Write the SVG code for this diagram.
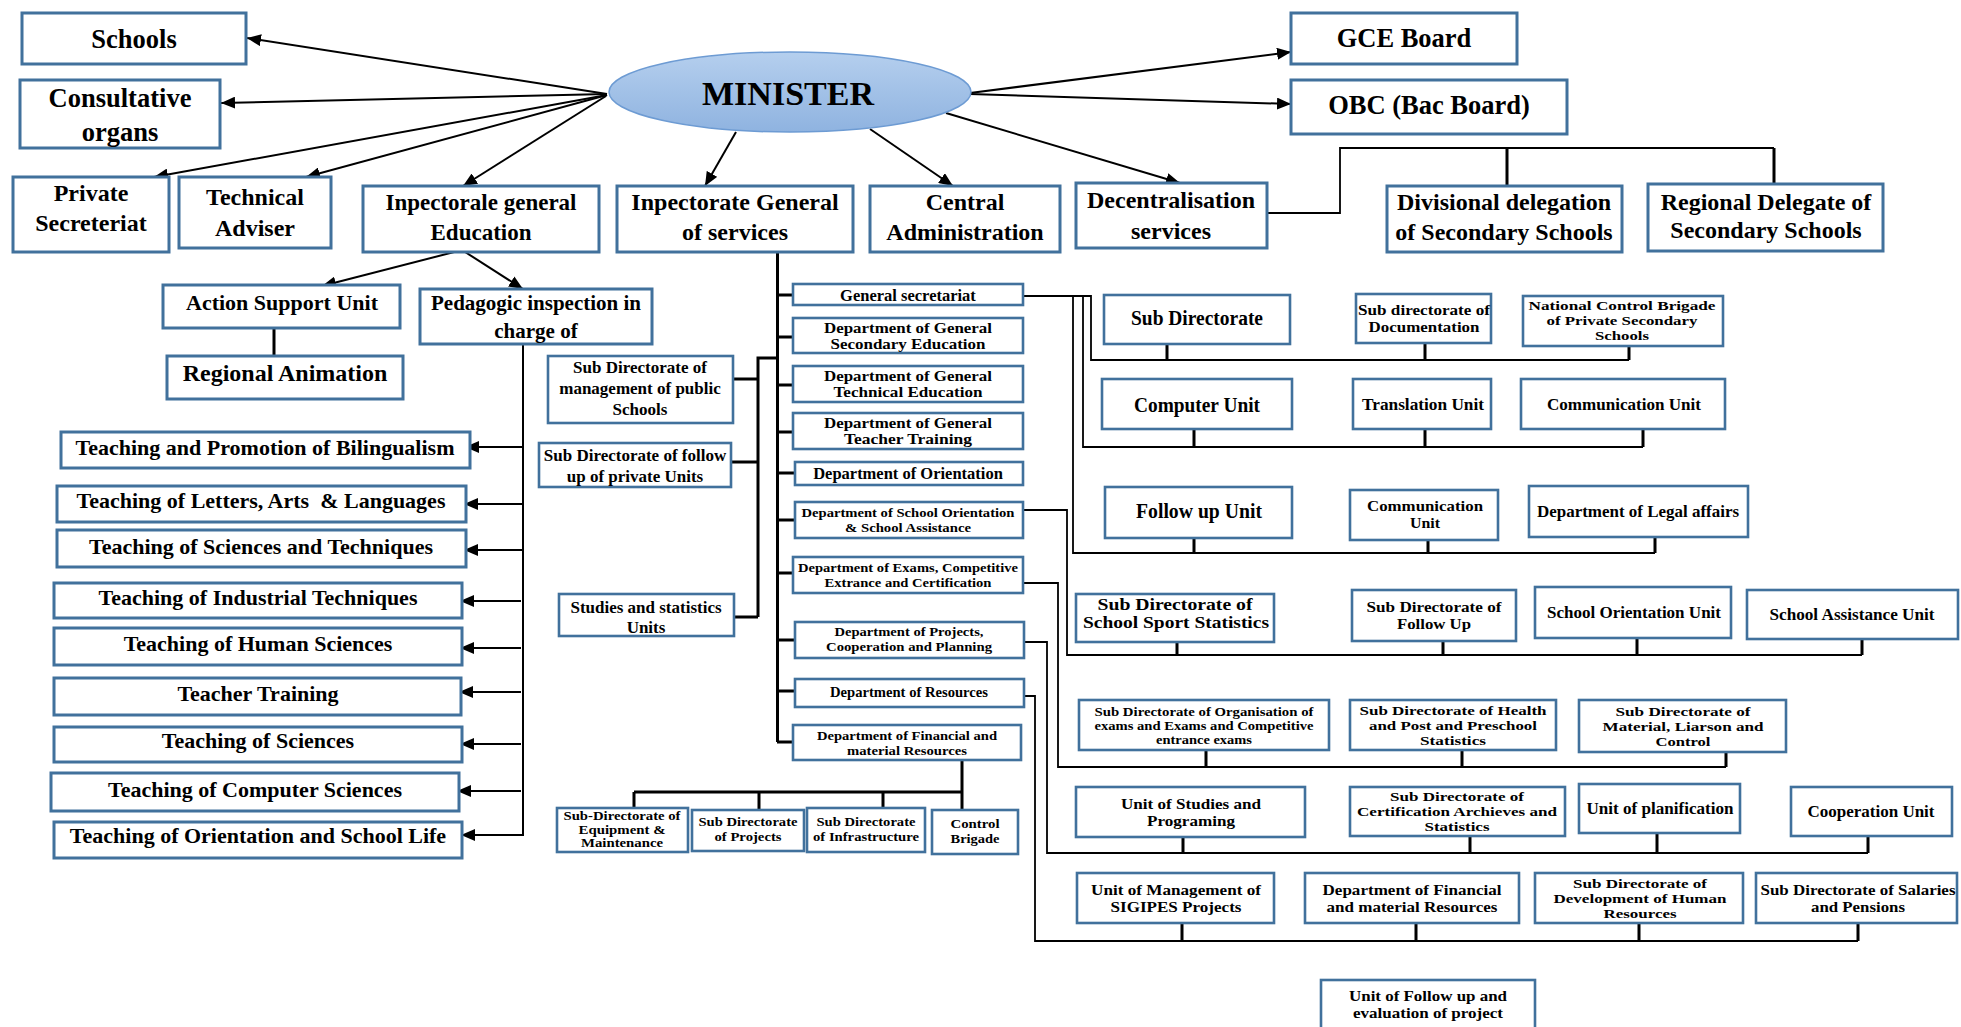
<svg xmlns="http://www.w3.org/2000/svg" width="1961" height="1027" viewBox="0 0 1961 1027">
<style>
  .b{fill:#fff;stroke:#41719c;stroke-width:3}
  .s{fill:#fff;stroke:#41719c;stroke-width:2.6}
  text{font-family:"Liberation Serif","Times New Roman",serif;font-weight:bold;text-anchor:middle;fill:#000}
  .l{stroke:#000;stroke-width:1.8;fill:none}
  .k{stroke:#000;stroke-width:3;fill:none}
  .a{stroke:#000;stroke-width:2;fill:none;marker-end:url(#ah)}
  .f26{font-size:26.5px}.f24{font-size:24px}.f23{font-size:23px}.f22{font-size:22px}.f21{font-size:21px}
  .f17{font-size:17px}.f165{font-size:16.5px}.f144{font-size:14.4px}.f135{font-size:13.5px}.f12{font-size:12px}
  .r20{font-size:20px}.r17{font-size:17px}.r16{font-size:16px}.r15{font-size:15px}.r135{font-size:13.5px}.r125{font-size:12.5px}
</style>
<defs>
  <marker id="ah" viewBox="0 0 14 12" refX="14" refY="6" markerWidth="14" markerHeight="12" markerUnits="userSpaceOnUse" orient="auto">
    <path d="M0,0 L14,6 L0,12 z" fill="#000"/>
  </marker>
  <linearGradient id="minfill" x1="0" y1="0" x2="0" y2="1">
    <stop offset="0" stop-color="#b5cfee"/>
    <stop offset="1" stop-color="#8fb3e0"/>
  </linearGradient>
</defs>

<!-- connectors -->
<g id="connectors">
  <!-- from the minister -->
  <line class="a" x1="607" y1="94" x2="247" y2="38"/>
  <line class="a" x1="607" y1="94" x2="221" y2="103"/>
  <line class="a" x1="607" y1="95" x2="154" y2="177"/>
  <line class="a" x1="607" y1="95" x2="306" y2="177"/>
  <line class="a" x1="606" y1="96" x2="463" y2="186"/>
  <line class="a" x1="736" y1="132" x2="705" y2="186"/>
  <line class="a" x1="870" y1="129" x2="953" y2="186"/>
  <line class="a" x1="946" y1="113" x2="1180" y2="183"/>
  <line class="a" x1="970" y1="93" x2="1291" y2="52"/>
  <line class="a" x1="970" y1="94" x2="1291" y2="104"/>
  <!-- general education inspectorate -->
  <line class="a" x1="462" y1="250" x2="322" y2="286"/>
  <line class="a" x1="462" y1="250" x2="523" y2="289"/>
  <path class="k" d="M274,328 V356"/>
  <!-- pedagogic inspection -->
  <path class="a" d="M523,344 V835 H461"/>
  <line class="a" x1="523" y1="447" x2="465" y2="447"/>
  <line class="a" x1="523" y1="504" x2="464" y2="504"/>
  <line class="a" x1="523" y1="550" x2="464" y2="550"/>
  <line class="a" x1="521" y1="601" x2="460" y2="601"/>
  <line class="a" x1="521" y1="648" x2="460" y2="648"/>
  <line class="a" x1="521" y1="692" x2="459" y2="692"/>
  <line class="a" x1="521" y1="744" x2="460" y2="744"/>
  <line class="a" x1="521" y1="791" x2="457" y2="791"/>
  <!-- inspectorate general of services trunk -->
  <path class="k" d="M777.5,252 V742"/>
  <path class="k" d="M777,295 H793 M777,337 H793 M777,385 H793 M777,432 H793 M777,473 H795 M777,520 H795 M777,573 H793 M777,640 H795 M777,691 H795 M777,742 H793"/>
  <path class="k" d="M777,358 H758 V617 M733,379 H758 M731,462 H758 M734,617 H758"/>
  <!-- financial and material resources -->
  <path class="k" d="M962,760 V810 M634,792 H962 M634,792 V808 M759,792 V810 M883,792 V808"/>
  <!-- decentralisation -->
  <path class="l" d="M1267,213 H1340 V148 H1774"/>
  <path class="k" d="M1507,148 V186 M1774,148 V184"/>
  <!-- general secretariat -->
  <path class="l" d="M1023,296 H1091 V360 H1629 M1083,296 V447 H1643 M1073,296 V553 H1655"/>
  <path class="k" d="M1167,344 V360 M1425,343 V360 M1629,346 V360"/>
  <path class="k" d="M1194,429 V447 M1425,429 V447 M1643,429 V447"/>
  <path class="k" d="M1194,538 V553 M1428,540 V553 M1655,537 V553"/>
  <!-- school orientation & assistance -->
  <path class="l" d="M1023,510 H1067 V655 H1862"/>
  <path class="k" d="M1177,642 V655 M1443,641 V655 M1637,638 V655 M1862,639 V655"/>
  <!-- exams -->
  <path class="l" d="M1023,583 H1058 V767 H1726"/>
  <path class="k" d="M1206,750 V767 M1462,750 V767 M1726,752 V767"/>
  <!-- projects -->
  <path class="l" d="M1025,642 H1047 V853 H1868"/>
  <path class="k" d="M1183,837 V853 M1470,836 V853 M1657,833 V853 M1868,836 V853"/>
  <!-- resources -->
  <path class="l" d="M1025,696 H1035 V941 H1858"/>
  <path class="k" d="M1182,923 V941 M1416,923 V941 M1639,923 V941 M1858,923 V941"/>
</g>

<!-- top level -->
<g id="minister">
  <ellipse cx="790" cy="92" rx="181" ry="40" fill="url(#minfill)" stroke="#6d9bd3" stroke-width="1.5"/>
  <text x="788" y="105" style="font-size:34px">MINISTER</text>
</g>
<g id="schools"><rect class="b" x="22" y="13" width="224" height="51"/><text class="f26" x="134" y="48">Schools</text></g>
<g id="consultative"><rect class="b" x="20" y="80" width="200" height="68"/><text class="f26" x="120" y="107">Consultative</text><text class="f26" x="120" y="141">organs</text></g>
<g id="private-secretariat"><rect class="b" x="13" y="177" width="156" height="75"/><text class="f24" x="91" y="201">Private</text><text class="f24" x="91" y="231">Secreteriat</text></g>
<g id="technical-adviser"><rect class="b" x="179" y="177" width="152" height="71"/><text class="f24" x="255" y="205">Technical</text><text class="f24" x="255" y="236">Adviser</text></g>
<g id="ig-education"><rect class="b" x="363" y="186" width="236" height="66"/><text class="f23" x="481" y="210">Inpectorale general</text><text class="f23" x="481" y="240">Education</text></g>
<g id="ig-services"><rect class="b" x="617" y="186" width="236" height="66"/><text class="f24" x="735" y="210">Inpectorate General</text><text class="f24" x="735" y="240">of services</text></g>
<g id="central-admin"><rect class="b" x="870" y="186" width="190" height="66"/><text class="f24" x="965" y="210">Central</text><text class="f24" x="965" y="240">Administration</text></g>
<g id="decentralisation"><rect class="b" x="1076" y="183" width="191" height="65"/><text class="f24" x="1171" y="208">Decentralisation</text><text class="f24" x="1171" y="239">services</text></g>
<g id="gce-board"><rect class="b" x="1291" y="13" width="226" height="51"/><text class="f26" x="1404" y="47">GCE Board</text></g>
<g id="obc"><rect class="b" x="1291" y="80" width="276" height="54"/><text class="f26" x="1429" y="114">OBC (Bac Board)</text></g>
<g id="divisional"><rect class="b" x="1387" y="186" width="235" height="66"/><text class="f24" x="1504" y="210">Divisional delegation</text><text class="f24" x="1504" y="240">of Secondary Schools</text></g>
<g id="regional-delegate"><rect class="b" x="1648" y="184" width="235" height="67"/><text class="f24" x="1766" y="210">Regional Delegate of</text><text class="f24" x="1766" y="238">Secondary Schools</text></g>

<!-- general education branch -->
<g id="action-support"><rect class="b" x="163" y="285" width="237" height="43"/><text class="f22" x="282" y="310">Action Support Unit</text></g>
<g id="regional-animation"><rect class="b" x="167" y="356" width="236" height="43"/><text class="f24" x="285" y="381">Regional Animation</text></g>
<g id="pedagogic"><rect class="b" x="420" y="289" width="232" height="55"/><text class="f21" x="536" y="310">Pedagogic inspection in</text><text class="f21" x="536" y="338">charge of</text></g>
<g id="t-bilingualism"><rect class="b" x="61" y="432" width="409" height="36"/><text class="f22" x="265" y="455">Teaching and Promotion of Bilingualism</text></g>
<g id="t-letters"><rect class="b" x="57" y="486" width="409" height="36"/><text class="f22" x="261" y="508" xml:space="preserve">Teaching of Letters, Arts  &amp; Languages</text></g>
<g id="t-sciences-tech"><rect class="b" x="57" y="530" width="409" height="37"/><text class="f22" x="261" y="554">Teaching of Sciences and Techniques</text></g>
<g id="t-industrial"><rect class="b" x="54" y="583" width="408" height="35"/><text class="f22" x="258" y="605">Teaching of Industrial Techniques</text></g>
<g id="t-human"><rect class="b" x="54" y="628" width="408" height="37"/><text class="f22" x="258" y="651">Teaching of Human Sciences</text></g>
<g id="t-teacher"><rect class="b" x="54" y="678" width="407" height="37"/><text class="f22" x="258" y="701">Teacher Training</text></g>
<g id="t-sciences"><rect class="b" x="54" y="727" width="408" height="35"/><text class="f22" x="258" y="748">Teaching of Sciences</text></g>
<g id="t-computer"><rect class="b" x="51" y="773" width="408" height="38"/><text class="f22" x="255" y="797">Teaching of Computer Sciences</text></g>
<g id="t-orientation"><rect class="b" x="54" y="822" width="408" height="36"/><text class="f22" x="258" y="843">Teaching of Orientation and School Life</text></g>

<!-- services branch -->
<g id="gen-secretariat"><rect class="s" x="793" y="284" width="230" height="21"/><text class="f165" x="908" y="301">General secretariat</text></g>
<g id="dep-secondary"><rect class="s" x="793" y="318" width="230" height="35"/><text class="f144" x="908" y="333" textLength="168" lengthAdjust="spacingAndGlyphs">Department of General</text><text class="f144" x="908" y="349" textLength="155" lengthAdjust="spacingAndGlyphs">Secondary Education</text></g>
<g id="dep-technical"><rect class="s" x="793" y="366" width="230" height="36"/><text class="f144" x="908" y="381" textLength="168" lengthAdjust="spacingAndGlyphs">Department of General</text><text class="f144" x="908" y="397" textLength="149" lengthAdjust="spacingAndGlyphs">Technical Education</text></g>
<g id="dep-teacher"><rect class="s" x="793" y="413" width="230" height="36"/><text class="f144" x="908" y="428" textLength="168" lengthAdjust="spacingAndGlyphs">Department of General</text><text class="f144" x="908" y="444" textLength="128" lengthAdjust="spacingAndGlyphs">Teacher Training</text></g>
<g id="dep-orientation"><rect class="s" x="795" y="462" width="228" height="23"/><text class="f165" x="908" y="479">Department of Orientation</text></g>
<g id="dep-school-orientation"><rect class="s" x="795" y="502" width="228" height="36"/><text class="f135" x="908" y="517" textLength="213" lengthAdjust="spacingAndGlyphs">Department of School Orientation</text><text class="f135" x="908" y="532" textLength="126" lengthAdjust="spacingAndGlyphs">&amp; School Assistance</text></g>
<g id="dep-exams"><rect class="s" x="793" y="557" width="230" height="36"/><text class="f135" x="908" y="572" textLength="220" lengthAdjust="spacingAndGlyphs">Department of Exams, Competitive</text><text class="f135" x="908" y="587" textLength="167" lengthAdjust="spacingAndGlyphs">Extrance and Certification</text></g>
<g id="dep-projects"><rect class="s" x="795" y="622" width="229" height="36"/><text class="f135" x="909" y="636" textLength="149" lengthAdjust="spacingAndGlyphs">Department of Projects,</text><text class="f135" x="909" y="651" textLength="166" lengthAdjust="spacingAndGlyphs">Cooperation and Planning</text></g>
<g id="dep-resources"><rect class="s" x="795" y="679" width="229" height="28"/><text class="f144" x="909" y="697" textLength="158" lengthAdjust="spacingAndGlyphs">Department of Resources</text></g>
<g id="dep-financial"><rect class="s" x="793" y="725" width="228" height="35"/><text class="f135" x="907" y="740" textLength="180" lengthAdjust="spacingAndGlyphs">Department of Financial and</text><text class="f135" x="907" y="755" textLength="120" lengthAdjust="spacingAndGlyphs">material Resources</text></g>

<g id="sd-public"><rect class="s" x="548" y="356" width="185" height="67"/><text class="f17" x="640" y="373">Sub Directorate of</text><text class="f17" x="640" y="394">management of public</text><text class="f17" x="640" y="415">Schools</text></g>
<g id="sd-private"><rect class="s" x="539" y="443" width="192" height="44"/><text class="f17" x="635" y="461">Sub Directorate of follow</text><text class="f17" x="635" y="482">up of private Units</text></g>
<g id="studies-units"><rect class="s" x="559" y="594" width="175" height="42"/><text class="f17" x="646" y="613">Studies and statistics</text><text class="f17" x="646" y="633">Units</text></g>

<g id="sd-equipment"><rect class="s" x="557" y="808" width="131" height="44"/><text class="f12" x="622" y="820" textLength="117" lengthAdjust="spacingAndGlyphs">Sub-Directorate of</text><text class="f12" x="622" y="833.5" textLength="87" lengthAdjust="spacingAndGlyphs">Equipment &amp;</text><text class="f12" x="622" y="847" textLength="82" lengthAdjust="spacingAndGlyphs">Maintenance</text></g>
<g id="sd-projects"><rect class="s" x="692" y="810" width="112" height="41"/><text class="f135" x="748" y="826" textLength="99" lengthAdjust="spacingAndGlyphs">Sub Directorate</text><text class="f135" x="748" y="841" textLength="67" lengthAdjust="spacingAndGlyphs">of Projects</text></g>
<g id="sd-infrastructure"><rect class="s" x="807" y="808" width="118" height="44"/><text class="f135" x="866" y="826" textLength="99" lengthAdjust="spacingAndGlyphs">Sub Directorate</text><text class="f135" x="866" y="841" textLength="106" lengthAdjust="spacingAndGlyphs">of Infrastructure</text></g>
<g id="control-brigade"><rect class="s" x="932" y="810" width="86" height="44"/><text class="f135" x="975" y="828" textLength="49" lengthAdjust="spacingAndGlyphs">Control</text><text class="f135" x="975" y="843" textLength="49" lengthAdjust="spacingAndGlyphs">Brigade</text></g>

<!-- units under the departments -->
<g id="r1-subdir"><rect class="s" x="1104" y="295" width="186" height="49"/><text class="r20" x="1197" y="325" textLength="132" lengthAdjust="spacingAndGlyphs">Sub Directorate</text></g>
<g id="r1-documentation"><rect class="s" x="1356" y="294" width="135" height="49"/><text class="r15" x="1424" y="315" textLength="132" lengthAdjust="spacingAndGlyphs">Sub directorate of</text><text class="r15" x="1424" y="332" textLength="111" lengthAdjust="spacingAndGlyphs">Documentation</text></g>
<g id="r1-brigade"><rect class="s" x="1523" y="296" width="200" height="50"/><text class="r135" x="1622" y="310" textLength="187" lengthAdjust="spacingAndGlyphs">National Control Brigade</text><text class="r135" x="1622" y="325" textLength="151" lengthAdjust="spacingAndGlyphs">of Private Secondary</text><text class="r135" x="1622" y="340" textLength="54" lengthAdjust="spacingAndGlyphs">Schools</text></g>

<g id="r2-computer"><rect class="s" x="1102" y="379" width="190" height="50"/><text class="r20" x="1197" y="412" textLength="126" lengthAdjust="spacingAndGlyphs">Computer Unit</text></g>
<g id="r2-translation"><rect class="s" x="1353" y="379" width="138" height="50"/><text class="r17" x="1423" y="410" textLength="122" lengthAdjust="spacingAndGlyphs">Translation Unit</text></g>
<g id="r2-communication"><rect class="s" x="1521" y="379" width="204" height="50"/><text class="r17" x="1624" y="410" textLength="154" lengthAdjust="spacingAndGlyphs">Communication Unit</text></g>

<g id="r3-follow"><rect class="s" x="1105" y="487" width="187" height="51"/><text class="r20" x="1199" y="518" textLength="126" lengthAdjust="spacingAndGlyphs">Follow up Unit</text></g>
<g id="r3-communication"><rect class="s" x="1350" y="490" width="148" height="50"/><text class="r15" x="1425" y="511" textLength="116" lengthAdjust="spacingAndGlyphs">Communication</text><text class="r15" x="1425" y="528" textLength="30" lengthAdjust="spacingAndGlyphs">Unit</text></g>
<g id="r3-legal"><rect class="s" x="1529" y="486" width="219" height="51"/><text class="r17" x="1638" y="517" textLength="202" lengthAdjust="spacingAndGlyphs">Department of Legal affairs</text></g>

<g id="r4-sport"><rect class="s" x="1076" y="594" width="198" height="48"/><text class="r16" x="1175" y="610" textLength="155" lengthAdjust="spacingAndGlyphs">Sub Directorate of</text><text class="r16" x="1176" y="628" textLength="186" lengthAdjust="spacingAndGlyphs">School Sport Statistics</text></g>
<g id="r4-followup"><rect class="s" x="1352" y="590" width="164" height="51"/><text class="r15" x="1434" y="612" textLength="135" lengthAdjust="spacingAndGlyphs">Sub Directorate of</text><text class="r15" x="1434" y="629" textLength="74" lengthAdjust="spacingAndGlyphs">Follow Up</text></g>
<g id="r4-orientation"><rect class="s" x="1535" y="587" width="196" height="51"/><text class="r17" x="1634" y="618" textLength="174" lengthAdjust="spacingAndGlyphs">School Orientation Unit</text></g>
<g id="r4-assistance"><rect class="s" x="1747" y="590" width="211" height="49"/><text class="r17" x="1852" y="620" textLength="165" lengthAdjust="spacingAndGlyphs">School Assistance Unit</text></g>

<g id="r5-organisation"><rect class="s" x="1079" y="700" width="250" height="50"/><text class="r125" x="1204" y="716" textLength="219" lengthAdjust="spacingAndGlyphs">Sub Directorate of Organisation of</text><text class="r125" x="1204" y="730" textLength="219" lengthAdjust="spacingAndGlyphs">exams and Exams and Competitive</text><text class="r125" x="1204" y="744" textLength="96" lengthAdjust="spacingAndGlyphs">entrance exams</text></g>
<g id="r5-health"><rect class="s" x="1350" y="700" width="206" height="50"/><text class="r135" x="1453" y="715" textLength="187" lengthAdjust="spacingAndGlyphs">Sub Directorate of Health</text><text class="r135" x="1453" y="730" textLength="168" lengthAdjust="spacingAndGlyphs">and Post and Preschool</text><text class="r135" x="1453" y="745" textLength="66" lengthAdjust="spacingAndGlyphs">Statistics</text></g>
<g id="r5-material"><rect class="s" x="1579" y="700" width="207" height="52"/><text class="r135" x="1683" y="716" textLength="135" lengthAdjust="spacingAndGlyphs">Sub Directorate of</text><text class="r135" x="1683" y="731" textLength="161" lengthAdjust="spacingAndGlyphs">Material, Liarson and</text><text class="r135" x="1683" y="746" textLength="55" lengthAdjust="spacingAndGlyphs">Control</text></g>

<g id="r6-studies"><rect class="s" x="1076" y="787" width="229" height="50"/><text class="r15" x="1191" y="809" textLength="140" lengthAdjust="spacingAndGlyphs">Unit of Studies and</text><text class="r15" x="1191" y="826" textLength="88" lengthAdjust="spacingAndGlyphs">Programing</text></g>
<g id="r6-certification"><rect class="s" x="1350" y="787" width="215" height="49"/><text class="r135" x="1457" y="801" textLength="134" lengthAdjust="spacingAndGlyphs">Sub Directorate of</text><text class="r135" x="1457" y="816" textLength="200" lengthAdjust="spacingAndGlyphs">Certification Archieves and</text><text class="r135" x="1457" y="831" textLength="65" lengthAdjust="spacingAndGlyphs">Statistics</text></g>
<g id="r6-planification"><rect class="s" x="1579" y="784" width="161" height="49"/><text class="r17" x="1660" y="814" textLength="147" lengthAdjust="spacingAndGlyphs">Unit of planification</text></g>
<g id="r6-cooperation"><rect class="s" x="1791" y="787" width="161" height="49"/><text class="r17" x="1871" y="817" textLength="127" lengthAdjust="spacingAndGlyphs">Cooperation Unit</text></g>

<g id="r7-sigipes"><rect class="s" x="1077" y="873" width="197" height="50"/><text class="r15" x="1176" y="895" textLength="170" lengthAdjust="spacingAndGlyphs">Unit of Management of</text><text class="r15" x="1176" y="912" textLength="131" lengthAdjust="spacingAndGlyphs">SIGIPES Projects</text></g>
<g id="r7-financial"><rect class="s" x="1305" y="873" width="214" height="50"/><text class="r15" x="1412" y="895" textLength="179" lengthAdjust="spacingAndGlyphs">Department of Financial</text><text class="r15" x="1412" y="912" textLength="171" lengthAdjust="spacingAndGlyphs">and material Resources</text></g>
<g id="r7-human"><rect class="s" x="1535" y="873" width="208" height="50"/><text class="r135" x="1640" y="888" textLength="134" lengthAdjust="spacingAndGlyphs">Sub Directorate of</text><text class="r135" x="1640" y="903" textLength="173" lengthAdjust="spacingAndGlyphs">Development of Human</text><text class="r135" x="1640" y="918" textLength="73" lengthAdjust="spacingAndGlyphs">Resources</text></g>
<g id="r7-salaries"><rect class="s" x="1756" y="873" width="201" height="50"/><text class="r15" x="1858" y="895" textLength="195" lengthAdjust="spacingAndGlyphs">Sub Directorate of Salaries</text><text class="r15" x="1858" y="912" textLength="94" lengthAdjust="spacingAndGlyphs">and Pensions</text></g>

<g id="follow-evaluation"><rect class="s" x="1321" y="980" width="214" height="50"/><text class="r15" x="1428" y="1001" textLength="158" lengthAdjust="spacingAndGlyphs">Unit of Follow up and</text><text class="r15" x="1428" y="1018" textLength="150" lengthAdjust="spacingAndGlyphs">evaluation of project</text></g>
</svg>
